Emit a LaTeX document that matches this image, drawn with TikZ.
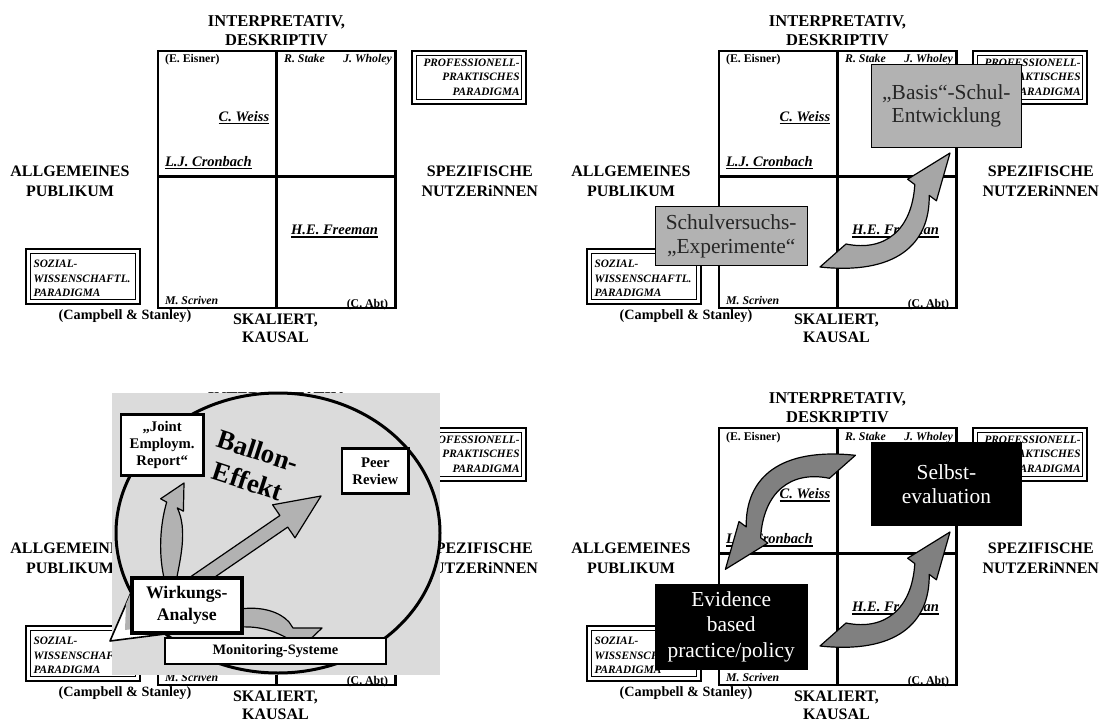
\documentclass[tikz,border=0pt]{standalone}
\usepackage{fontspec}
\setmainfont{Liberation Serif}
\newsavebox\ulbox
\newcommand\undl[1]{\sbox\ulbox{#1}\rlap{\vrule height -1.6pt depth 3pt width\wd\ulbox}\usebox\ulbox}

% one evaluation-field panel: 2x2 grid, axis labels, authors, paradigm frames
\newcommand\quadpanel[2]{%
\begin{scope}[shift={(#1)}, name prefix=#2-]
  \draw[gridline] (157.8,51) rectangle (395.3,308);
  \draw[gridline] (276.5,51) -- (276.5,308);
  \draw[gridline] (157.8,176.5) -- (395.3,176.5);
  \node[heading, font=\bfseries\fontsize{16.5}{18.5}\selectfont] (top) at (276.5,30.5) {INTERPRETATIV,\\DESKRIPTIV};
  \node[heading] (bottom) at (275.5,328.5) {SKALIERT,\\KAUSAL};
  \node[heading, font=\bfseries\fontsize{16}{19.7}\selectfont] (left) at (70,181) {ALLGEMEINES\\PUBLIKUM};
  \node[heading, font=\bfseries\fontsize{16}{19.7}\selectfont] (right) at (479.8,181) {SPEZIFISCHE\\NUTZERiNNEN};
  \node[font=\bfseries\fontsize{14.2}{15}\selectfont, inner sep=0pt] (campbell) at (125,316) {(Campbell \& Stanley)};
  \node[author, anchor=base west] (eisner) at (164.9,63) {(E. Eisner)};
  \node[authorit, anchor=base west] (stake) at (284,63) {R. Stake};
  \node[authorit, anchor=base east] (wholey) at (392,63) {J. Wholey};
  \node[keyauthor, anchor=base east] (weiss) at (269.4,121.5) {\undl{C. Weiss}};
  \node[keyauthor, anchor=base west] (cronbach) at (164.9,166.5) {\undl{L.J. Cronbach}};
  \node[keyauthor, anchor=base west] (freeman) at (291,234.8) {\undl{H.E. Freeman}};
  \node[authorit, anchor=base west] (scriven) at (164.9,304) {M. Scriven};
  \node[author, anchor=base east] (abt) at (388.3,307.3) {(C. Abt)};
  \draw[frameouter] (412,50.7) rectangle (526,104.3);
  \draw[frameinner] (416.5,55.2) rectangle (521.5,99.8);
  \node[paratext, align=right, anchor=east] (prof) at (519.8,77.3) {PROFESSIONELL-\\PRAKTISCHES\\PARADIGMA};
  \draw[frameouter] (26.3,249) rectangle (140.3,304);
  \draw[frameinner] (30.8,253.5) rectangle (135.8,299.5);
  \node[paratext, align=left, anchor=west] (sozial) at (33.3,278.6) {SOZIAL-\\WISSENSCHAFTL.\\PARADIGMA};
\end{scope}}

\begin{document}
\begin{tikzpicture}[x=1pt, y=-1pt,
  gridline/.style={line width=2.4pt},
  heading/.style={font=\bfseries\fontsize{16}{18.5}\selectfont, align=center, inner sep=0pt},
  author/.style={font=\bfseries\fontsize{11.8}{13}\selectfont, inner sep=0pt},
  authorit/.style={font=\bfseries\itshape\fontsize{11.8}{13}\selectfont, inner sep=0pt},
  keyauthor/.style={font=\bfseries\itshape\fontsize{14.5}{16}\selectfont, inner sep=0pt},
  paratext/.style={font=\bfseries\itshape\fontsize{11.3}{14.5}\selectfont, inner sep=0pt},
  frameouter/.style={line width=2.2pt},
  frameinner/.style={line width=1.1pt},
  overbox/.style={draw=black, line width=1pt, inner sep=0pt, align=center, font=\fontsize{21.4}{23.5}\selectfont},
  graybox/.style={overbox, fill=black!30, text=black!85},
  blackbox/.style={overbox, fill=black, text=white},
  balloonbox/.style={draw, fill=white, align=center, inner sep=0pt, font=\bfseries\fontsize{14.7}{17}\selectfont},
  arrowshape/.style={draw=black, line width=1.2pt, line join=round},
  bentarrow/.style={insert path={(-65,57) -- (-39,34) .. controls (0,42) and (27,20) .. (29.8,-25.4)
      -- (22.6,-30.8) -- (65,-57) -- (51.4,-9.2) -- (44.2,-14.6)
      .. controls (45,35) and (10,65) .. (-65,57) -- cycle}}
]
\useasboundingbox (0,0) rectangle (1100,722);
\fill[white] (0,0) rectangle (1100,722);

% the four panels
\quadpanel{0,0}{tl}
\quadpanel{561,0}{tr}
\quadpanel{0,377}{bl}
\quadpanel{561,377}{br}

% top right: from school experiments to school development
\begin{scope}[shift={(885,210)}]
  \path[arrowshape, fill=black!35, bentarrow];
\end{scope}
\node[graybox, minimum width=150.8pt, minimum height=83pt] (basis) at (946.4,105.8) {„Basis“-Schul-\\Entwicklung};
\node[graybox, minimum width=151.9pt, minimum height=59pt] (schulv) at (731.2,236.2) {Schulversuchs-\\„Experimente“};

% bottom right: cycle between evidence based practice and self-evaluation
\begin{scope}[shift={(885,589)}]
  \path[arrowshape, fill=black!50, bentarrow];
\end{scope}
\begin{scope}[shift={(790.4,512.3)}, rotate=180]
  \path[arrowshape, fill=black!50, bentarrow];
\end{scope}
\node[blackbox, minimum width=150.8pt, minimum height=82.6pt] (selbst) at (946.4,484) {Selbst-\\evaluation};
\node[blackbox, minimum width=151.9pt, minimum height=85pt, font=\fontsize{21.4}{25.5}\selectfont] (evidence) at (731.2,626.8) {Evidence\\based\\practice/policy};

% bottom left: balloon effect
\fill[black!14] (111.5,392.7) rectangle (439.5,675.3);
\draw[line width=3pt] (278,533) ellipse [x radius=162, y radius=140];
\node[font=\bfseries\fontsize{27}{32}\selectfont, align=center, rotate=-18, inner sep=0pt] (ballon) at (253,466) {Ballon-\\Effekt};
\filldraw[arrowshape, fill=black!30] (168.1,592.2) -- (279.9,515.5) -- (272.6,504.8) -- (321,496) -- (295,537.8) -- (287.7,527.1) -- (175.9,603.8) -- cycle;
\filldraw[arrowshape, fill=black!30] (165,582) .. controls (158,555) and (160,525) .. (166.7,502.1) -- (160.6,498.8) -- (184,483) -- (183.4,511.2) -- (177.3,507.9) .. controls (188,530) and (180,560) .. (176,582) -- cycle;
\filldraw[arrowshape, fill=black!30] (240,609) .. controls (262,606) and (280,612) .. (289,622) -- (293,628) -- (322,628) -- (299,650) -- (292,641) .. controls (276,631) and (260,626) .. (240,627) -- cycle;
\filldraw[arrowshape, fill=white, line width=1.6pt] (110,641) -- (133,588) -- (165,634) -- cycle;
\fill[black!30] (126,604) -- (132.5,589) -- (133,629) -- (125,630) -- cycle;
\node[balloonbox, line width=2.5pt, minimum width=82.4pt, minimum height=61pt] (joint) at (162.2,444.8) {„Joint\\Employm.\\Report“};
\node[balloonbox, line width=2.5pt, minimum width=66.6pt, minimum height=44.6pt] (peer) at (375.3,471) {Peer\\Review};
\node[balloonbox, line width=4pt, minimum width=110.5pt, minimum height=54.4pt, font=\bfseries\fontsize{17.7}{21.6}\selectfont] (wirk) at (186.75,605.5) {Wirkungs-\\Analyse};
\node[balloonbox, line width=2pt, minimum width=220.9pt, minimum height=26.6pt, font=\bfseries\fontsize{14.4}{16}\selectfont] (monitor) at (275.35,651) {Monitoring-Systeme};
\end{tikzpicture}
\end{document}
